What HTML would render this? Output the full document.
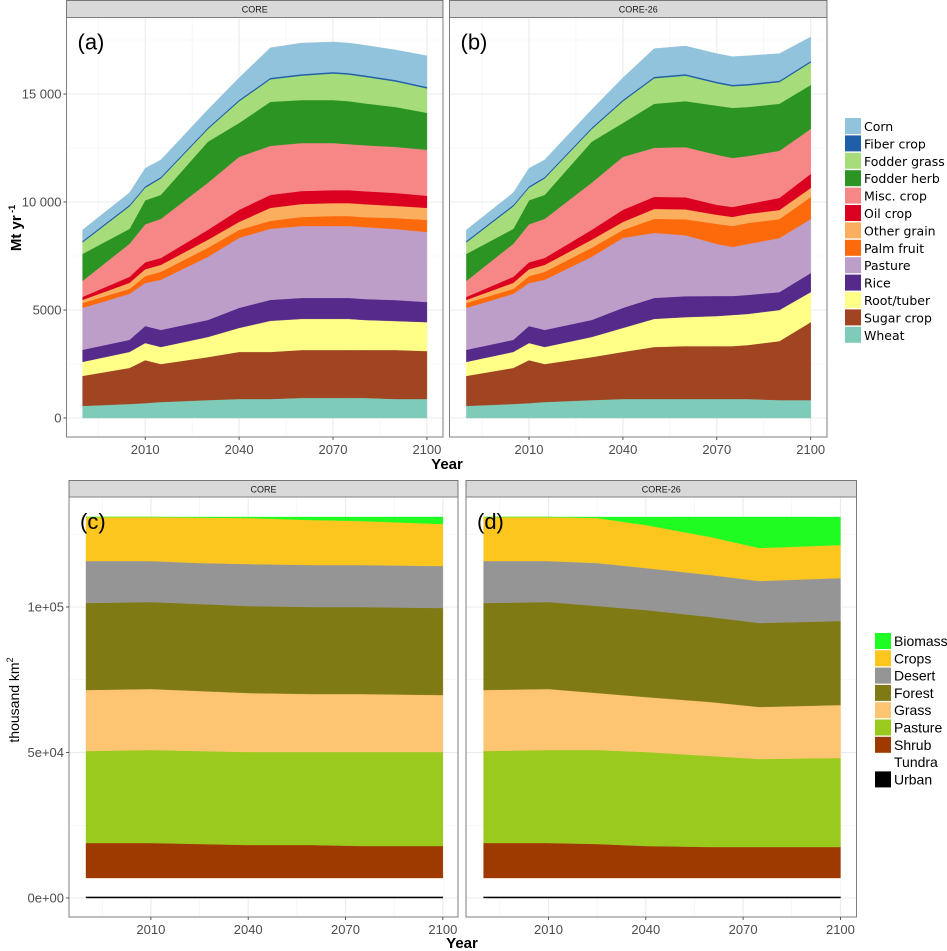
<!DOCTYPE html>
<html><head><meta charset="utf-8">
<style>
body{margin:0;background:#fff;}
svg{display:block;font-family:"Liberation Sans",sans-serif;}
</style></head>
<body>
<svg id="fig" width="947" height="951" viewBox="0 0 947 951"></svg>
<script>
// ---------- Data: crop production (Mt/yr), layer values ----------
const cropYears = [1990,2005,2010,2015,2030,2040,2050,2060,2070,2075,2080,2090,2100];
const cropNames = ["Corn","Fiber crop","Fodder grass","Fodder herb","Misc. crop","Oil crop","Other grain","Palm fruit","Pasture","Rice","Root/tuber","Sugar crop","Wheat"];
const cropColors = ["#92c3dc","#1f5fa8","#a6dc7a","#2c9423","#f78686","#db001f","#fcae5f","#fd6a0c","#bc9ec9","#552a8b","#ffff88","#a04421","#7fcbb9"];
// panel (a) CORE
const aCorn    = [510,560,830,790,830,1020,1390,1440,1390,1390,1390,1390,1440];
const aFiber   = [70,70,70,70,70,70,70,70,70,70,70,70,70];
const aFgrass  = [530,1040,580,760,580,1000,1040,1130,1230,1230,1230,1180,1130];
const aFherb   = [1250,690,1110,1110,1900,1570,2040,1990,1990,1990,1940,1850,1710];
const aMisc    = [740,1530,1760,1810,2180,2450,2270,2220,2180,2130,2130,2130,2130];
const aOil     = [140,280,320,320,460,560,600,600,600,600,600,600,560];
const aOther   = [140,280,320,320,370,370,600,600,600,600,600,560,560];
const aPalm    = [230,230,320,370,420,370,370,420,460,460,460,510,560];
const aPasture = [1940,2130,1990,2320,2920,3240,3290,3330,3330,3330,3330,3290,3240];
const aRice    = [560,560,790,790,790,930,970,970,970,970,970,970,930];
const aRoot    = [650,740,790,790,930,1110,1440,1440,1440,1440,1390,1340,1340];
const aSugar   = [1390,1670,1990,1760,1990,2180,2180,2220,2220,2220,2220,2270,2220];
const aWheat   = [560,650,690,740,830,880,880,930,930,930,930,880,880];
// panel (b) CORE-26
const bCorn    = [510,560,830,790,830,1020,1300,1300,1300,1300,1300,1250,1110];
const bFiber   = [70,70,70,70,70,70,70,70,70,70,70,70,70];
const bFgrass  = [530,1040,580,760,580,1000,1180,1180,1040,1000,1000,1000,1040];
const bFherb   = [1250,690,1110,1110,1900,1570,2040,2130,2270,2320,2270,2180,2040];
const bMisc    = [740,1530,1760,1810,2180,2450,2270,2320,2320,2270,2220,2180,2080];
const bOil     = [140,280,320,320,460,560,560,560,460,460,460,560,650];
const bOther   = [140,280,320,320,370,370,460,460,420,420,420,420,420];
const bPalm    = [230,230,320,370,420,370,650,740,930,970,970,880,1020];
const bPasture = [1940,2130,1990,2320,2920,3240,3010,2820,2410,2270,2360,2500,2500];
const bRice    = [560,560,790,790,790,930,970,970,930,880,880,830,880];
const bRoot    = [650,740,790,790,930,1110,1300,1340,1390,1440,1440,1440,1390];
const bSugar   = [1390,1670,1990,1760,1990,2180,2410,2450,2450,2450,2500,2730,3610];
const bWheat   = [560,650,690,740,830,880,880,880,880,880,880,830,830];
const cropTicks = [0,5000,10000,15000];
const cropTickLabels = ["0","5000","10 000","15 000"];

// ---------- Data: land cover (thousand km2), layer values ----------
const landYears = [1990,2010,2025,2040,2060,2075,2100];
const landNames = ["Biomass","Crops","Desert","Forest","Grass","Pasture","Shrub","Tundra","Urban"];
const landColors = ["#1ffc22","#fdc61f","#959595","#807a14","#fdc571","#9aca1d","#9e3a00","#ffffff","#000000"];
const cBiomass = [0,0,170,340,1030,1370,2410];
const cCrops   = [15120,15120,15630,15810,15460,15120,14430];
const cDesert  = [14430,14090,14090,14430,14430,14430,14430];
const cForest  = [29890,29890,29890,29890,29890,29890,29890];
const cGrass   = [20960,20960,20620,20270,19930,19930,19590];
const cPasture = [31610,31950,31950,31950,31950,32300,32300];
const cShrub   = [12030,12030,11680,11340,11340,10990,10990];
const cTundra  = [6360,6360,6360,6360,6360,6360,6360];
const cUrban   = [520,520,520,520,520,520,520];
const dBiomass = [0,0,340,2750,6870,10650,9620];
const dCrops   = [15120,15120,15460,14770,13060,11340,11340];
const dDesert  = [14430,14090,14770,14430,14430,14430,14770];
const dForest  = [29890,29890,29890,29890,29210,28860,28860];
const dGrass   = [20960,20960,19590,18900,18550,17870,18210];
const dPasture = [31610,31950,32300,32300,31270,30240,30580];
const dShrub   = [12030,12030,11680,10990,10650,10650,10650];
const dTundra  = [6360,6360,6360,6360,6360,6360,6360];
const dUrban   = [520,520,520,520,520,520,520];
const landTicks = [0,50000,100000];
const landTickLabels = ["0e+00","5e+04","1e+05"];
const xTicks = [2010,2040,2070,2100];

const NS = "http://www.w3.org/2000/svg";
const svg = document.getElementById("fig");
function mk(tag, attrs, parent){
  const e = document.createElementNS(NS, tag);
  for (const k in attrs) e.setAttribute(k, attrs[k]);
  (parent||svg).appendChild(e);
  return e;
}

function panel(cfg){
  const g = mk("g", {});
  
  
  const {x0,x1,sy0,sy1,py1} = cfg;
  const xs = v => cfg.xLeft + (v - 1990) * cfg.pxYear;
  const ys = v => cfg.yZero - v * cfg.pxVal;
  // strip
  const strip = mk("rect",{x:x0,y:sy0,width:x1-x0,height:sy1-sy0,fill:"#d9d9d9",stroke:"#5a5a5a","stroke-width":0.8},g);
  
  
  const st = mk("text",{x:(x0+x1)/2,y:sy0+12,"text-anchor":"middle","font-size":"9","fill":"#1a1a1a"},g);
  st.textContent = cfg.title;
  
  
  // grid
  const gy = cfg.minorY;
  for (const v of gy){ const y=ys(v); if(y>sy1 && y<py1) mk("line",{x1:x0,x2:x1,y1:y,y2:y,stroke:"#f2f2f2","stroke-width":0.6},g); }
  for (const v of cfg.ticks){ const y=ys(v); mk("line",{x1:x0,x2:x1,y1:y,y2:y,stroke:"#ebebeb","stroke-width":1.1},g); }
  for (const v of [1995,2025,2055,2085]) mk("line",{x1:xs(v),x2:xs(v),y1:sy1,y2:py1,stroke:"#f2f2f2","stroke-width":0.6},g);
  for (const v of xTicks) mk("line",{x1:xs(v),x2:xs(v),y1:sy1,y2:py1,stroke:"#ebebeb","stroke-width":1.1},g);
  // stacked areas
  const n = cfg.years.length;
  const series = cfg.series;
  let lower = new Array(n).fill(0);
  const bounds = [];
  for (let s = series.length-1; s >= 0; s--){
    const upper = lower.map((b,i)=>b + series[s][i]);
    bounds[s] = {lo: lower.slice(), hi: upper};
    lower = upper;
  }
  for (let s = series.length-1; s >= 0; s--){
    const b = bounds[s];
    let d = "";
    for (let i=0;i<n;i++) d += (i?"L":"M") + xs(cfg.years[i]).toFixed(2) + "," + ys(b.hi[i]).toFixed(2);
    for (let i=n-1;i>=0;i--) d += "L" + xs(cfg.years[i]).toFixed(2) + "," + ys(b.lo[i]).toFixed(2);
    d += "Z";
    const p = mk("path",{d:d,fill:cfg.colors[s],stroke:cfg.colors[s],"stroke-width":0.4},g);
    
    
  }
  // border
  mk("rect",{x:x0,y:sy1,width:x1-x0,height:py1-sy1,fill:"none",stroke:"#7f7f7f","stroke-width":1},g);
  // x ticks
  xTicks.forEach(v=>{
    mk("line",{x1:xs(v),x2:xs(v),y1:py1,y2:py1+3,stroke:"#333","stroke-width":0.8},g);
    const t = mk("text",{x:xs(v),y:py1+17,"text-anchor":"middle","font-size":"13","fill":"#4d4d4d"},g);
    t.textContent = v;
    
    
  });
  // y ticks
  if (cfg.showY){
    cfg.ticks.forEach((v,i)=>{
      mk("line",{x1:x0-3,x2:x0,y1:ys(v),y2:ys(v),stroke:"#333","stroke-width":0.8},g);
      const t = mk("text",{x:x0-5,y:ys(v)+4.5,"text-anchor":"end","font-size":"13","fill":"#4d4d4d"},g);
      t.textContent = cfg.tickLabels[i];
      
      
    });
  }
  const lab = mk("text",{x:x0+11,y:sy1+32,"font-size":"22","fill":"#000"},g);
  lab.textContent = cfg.label;
  
  
}

const cropMinor = [2500,7500,12500,17500];
panel({name:"panel-a",title:"CORE",label:"(a)",x0:66.5,x1:443,sy0:0.5,sy1:17.5,py1:437,xLeft:82.6,pxYear:3.13,yZero:418,pxVal:108/5000,
  years:cropYears,series:[aCorn,aFiber,aFgrass,aFherb,aMisc,aOil,aOther,aPalm,aPasture,aRice,aRoot,aSugar,aWheat],
  colors:cropColors,names:cropNames,ticks:cropTicks,tickLabels:cropTickLabels,minorY:cropMinor,showY:true});
panel({name:"panel-b",title:"CORE-26",label:"(b)",x0:449.5,x1:827,sy0:0.5,sy1:17.5,py1:437,xLeft:466.4,pxYear:3.13,yZero:418,pxVal:108/5000,
  years:cropYears,series:[bCorn,bFiber,bFgrass,bFherb,bMisc,bOil,bOther,bPalm,bPasture,bRice,bRoot,bSugar,bWheat],
  colors:cropColors,names:cropNames,ticks:cropTicks,tickLabels:cropTickLabels,minorY:cropMinor,showY:false});
const landMinor = [25000,75000,125000];
panel({name:"panel-c",title:"CORE",label:"(c)",x0:69,x1:458,sy0:480.5,sy1:497,py1:917,xLeft:86,pxYear:3.244,yZero:898,pxVal:145.5/50000,
  years:landYears,series:[cBiomass,cCrops,cDesert,cForest,cGrass,cPasture,cShrub,cTundra,cUrban],
  colors:landColors,names:landNames,ticks:landTicks,tickLabels:landTickLabels,minorY:landMinor,showY:true});
panel({name:"panel-d",title:"CORE-26",label:"(d)",x0:466,x1:856.5,sy0:480.5,sy1:497,py1:917,xLeft:483.6,pxYear:3.244,yZero:898,pxVal:145.5/50000,
  years:landYears,series:[dBiomass,dCrops,dDesert,dForest,dGrass,dPasture,dShrub,dTundra,dUrban],
  colors:landColors,names:landNames,ticks:landTicks,tickLabels:landTickLabels,minorY:landMinor,showY:false});

// legends
function legend(names, colors, kx, ky0, step, tx, font, fsize, nm){
  const g = mk("g",{});
  
  
  names.forEach((n,i)=>{
    const y = ky0 + i*step;
    const r = mk("rect",{x:kx,y:y,width:16,height:16,fill:colors[i]},g);
    
    
    const t = mk("text",{x:tx,y:y+13,"font-size":fsize,"font-family":font,"fill":"#000"},g);
    t.textContent = n;
    
    
  });
}
legend(cropNames, cropColors, 845, 118, 17.4, 864, '"DejaVu Sans", sans-serif', "12.5", "crop-legend");
legend(landNames, landColors, 875, 633, 17.3, 894, '"Liberation Sans", sans-serif', "14", "land-legend");
</script>
<svg width="0" height="0"></svg>
<div style="position:absolute;left:0;top:0;width:947px;height:951px;pointer-events:none;">
<svg width="947" height="951" style="position:absolute;left:0;top:0;font-family:'Liberation Sans',sans-serif;">
  <text x="0" y="0" transform="translate(21,228) rotate(-90)" text-anchor="middle" font-size="15" font-weight="bold">Mt yr<tspan font-size="9" dy="-6"> -1</tspan></text>
  <text x="447" y="469" text-anchor="middle" font-size="15" font-weight="bold">Year</text>
  <text x="0" y="0" transform="translate(19,700) rotate(-90)" text-anchor="middle" font-size="14">thousand km<tspan font-size="9" dy="-6">2</tspan></text>
  <text x="462" y="948" text-anchor="middle" font-size="15" font-weight="bold">Year</text>
</svg>
</div>
</body></html>
